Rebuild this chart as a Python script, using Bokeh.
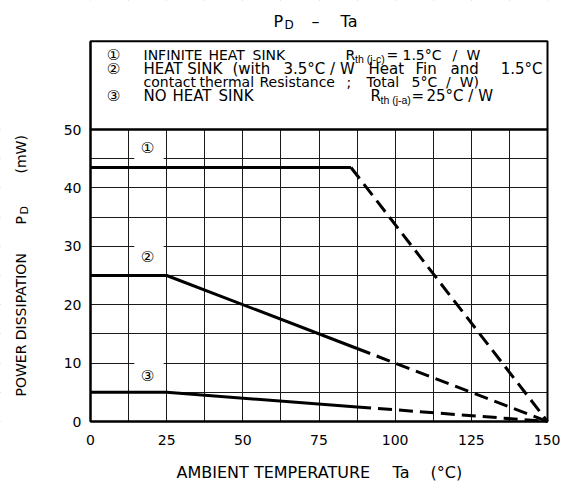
import math
from bokeh.plotting import figure
from bokeh.models import Range1d, FixedTicker, Label
from bokeh.embed import file_html
from bokeh.resources import INLINE

# ---- data ----
temp_ticks = [0, 25, 50, 75, 100, 125, 150]        # Ta (°C)
pd_ticks = [0, 10, 20, 30, 40, 50]                 # PD (mW)
grid_t = [0, 12.5, 25, 37.5, 50, 62.5, 75, 87.5, 100, 112.5, 125, 137.5, 150]
grid_p = [0, 5, 10, 15, 20, 25, 30, 35, 40, 45, 50]

# curve 1: infinite heat sink
c1_solid_t = [0, 85.5]
c1_solid_p = [43.5, 43.5]
c1_dash_t = [85.5, 150]
c1_dash_p = [43.5, 0]
# curve 2: heat sink 5 °C/W total
c2_solid_t = [0, 25, 87.5]
c2_solid_p = [25, 25, 12.5]
c2_dash_t = [87.5, 150]
c2_dash_p = [12.5, 0]
# curve 3: no heat sink
c3_solid_t = [0, 25, 87.5]
c3_solid_p = [5, 5, 2.5]
c3_dash_t = [87.5, 150]
c3_dash_p = [2.5, 0]

curve_marks = ["①", "②", "③"]
curve_mark_t = [18.7, 18.7, 18.7]
curve_mark_p = [46.9, 28.1, 7.8]

FONT = "DejaVu Sans"
SUBFONT = "Liberation Sans"
T_MIN, T_MAX = 0, 150
P_MIN, P_MAX = 0, 50
BOX_TOP = 65.1                       # top of the legend box (mW scale)

# page geometry (px); the frame covers the whole canvas, axes sit at fixed locations
W, H = 560, 486
PX_L, PX_R, PX_B = 90, 547, 421      # x=0, x=150, y=0 on the page
PX_50 = 129                          # y=50 on the page
SXP = (PX_R - PX_L) / (T_MAX - T_MIN)
SYP = (PX_B - PX_50) / (P_MAX - P_MIN)
x_start = -PX_L / SXP
x_end = (W - PX_L) / SXP
y_start = -(H - PX_B) / SYP
y_end = PX_B / SYP

p = figure(width=W, height=H, x_range=Range1d(x_start, x_end), y_range=Range1d(y_start, y_end),
           output_backend="svg", toolbar_location=None,
           min_border_left=0, min_border_right=0, min_border_top=0, min_border_bottom=0)
p.background_fill_color = "white"
p.border_fill_color = "white"
p.outline_line_color = None

p.xaxis.ticker = FixedTicker(ticks=temp_ticks)
p.yaxis.ticker = FixedTicker(ticks=pd_ticks)
p.xaxis.bounds = (T_MIN, T_MAX)
p.yaxis.bounds = (P_MIN, BOX_TOP)
p.xaxis.fixed_location = P_MIN
p.yaxis.fixed_location = T_MIN
p.xgrid.ticker = FixedTicker(ticks=grid_t)
p.ygrid.ticker = FixedTicker(ticks=grid_p)
for g in (p.xgrid, p.ygrid):
    g.grid_line_color = "#1a1a1a"
    g.grid_line_width = 1
    g.grid_line_alpha = 1.0
for ax in (p.xaxis, p.yaxis):
    ax.axis_line_color = "black"
    ax.axis_line_width = 2
    ax.major_tick_line_color = None
    ax.minor_tick_line_color = None
    ax.major_label_text_font = FONT
    ax.major_label_text_font_size = "14px"
    ax.major_label_text_color = "black"
p.xaxis.major_label_standoff = 7
p.yaxis.major_label_standoff = 3

# white masks hiding grid lines outside the chart box (extended past the frame edges)
ex = 10
p.quad(left=[x_start - ex, T_MAX, x_start - ex, x_start - ex],
       right=[T_MIN, x_end + ex, x_end + ex, x_end + ex],
       bottom=[y_start - ex, y_start - ex, BOX_TOP, y_start - ex],
       top=[y_end + ex, y_end + ex, y_end + ex, P_MIN],
       fill_color="white", line_color=None)
# legend box
p.quad(left=[T_MIN], right=[T_MAX], bottom=[P_MAX], top=[BOX_TOP], fill_color="white",
       line_color="black", line_width=2)
# chart box border
p.quad(left=[T_MIN], right=[T_MAX], bottom=[P_MIN], top=[P_MAX], fill_color=None,
       line_color="black", line_width=2)
# white gaps in grid behind curve marks
p.quad(left=[14.4] * 3, right=[24] * 3,
       bottom=[m - 2.3 for m in curve_mark_p], top=[m + 2.5 for m in curve_mark_p],
       fill_color="white", line_color=None)

for st, sp, dt, dp in ((c1_solid_t, c1_solid_p, c1_dash_t, c1_dash_p),
                       (c2_solid_t, c2_solid_p, c2_dash_t, c2_dash_p),
                       (c3_solid_t, c3_solid_p, c3_dash_t, c3_dash_p)):
    p.line(st, sp, line_color="black", line_width=3)
    p.line(dt, dp, line_color="black", line_width=3, line_dash="14 7")

for m, t, v in zip(curve_marks, curve_mark_t, curve_mark_p):
    p.add_layout(Label(x=t, y=v, text=m, text_align="center", text_baseline="middle",
                       text_font=FONT, text_font_size="15px", text_color="black"))


# ---- text placed by page pixel position ----
def lab(xp, yp, text, size="14px", align="left", angle=0.0, font=FONT):
    p.add_layout(Label(x=(xp - PX_L) / SXP, y=(PX_B - yp) / SYP,
                       text=text, text_align=align, text_baseline="middle", angle=angle,
                       text_font=font, text_font_size=size, text_color="black"))


# title
lab(273, 20.5, "P", "16px")
lab(284, 24.5, "D", "12px")
lab(311, 20.5, "–", "16px")
lab(340, 20.5, "Ta", "16px")

# legend rows
R1, R2, R3, R4 = 54, 68, 81.5, 95
lab(113, R1, "①", "15px", "center")
lab(113, R2, "②", "15px", "center")
lab(113, R4, "③", "15px", "center")

lab(143, R1, "INFINITE")
lab(208, R1, "HEAT")
lab(252, R1, "SINK")
lab(345, R1, "R")
lab(354.5, R1 + 4.5, "th (j-c)", "10.5px", font=SUBFONT)
lab(386, R1, "=")
lab(402, R1, "1.5°C")
lab(452, R1, "/")
lab(466, R1, "W")

lab(143, R2, "HEAT SINK", "15px")
lab(232, R2, "(with", "15px")
lab(283, R2, "3.5°C / W", "15px")
lab(368, R2, "Heat", "15px")
lab(415, R2, "Fin", "15px")
lab(450, R2, "and", "15px")
lab(542, R2, "1.5°C", "15px", "right")

lab(143, R3, "contact")
lab(199, R3, "thermal")
lab(259, R3, "Resistance")
lab(346, R3, ";")
lab(366, R3, "Total")
lab(411, R3, "5°C\u00a0\u00a0/\u00a0\u00a0W)")

lab(143, R4, "NO", "15px")
lab(172, R4, "HEAT", "15px")
lab(218, R4, "SINK", "15px")
lab(370, R4, "R", "15px")
lab(380, R4 + 4.5, "th (j-a)", "10.5px", font=SUBFONT)
lab(411, R4, "=", "15px")
lab(426, R4, "25°C / W", "15px")

# x axis label
lab(176, 472, "AMBIENT TEMPERATURE", "16px")
lab(392, 472, "Ta", "16px")
lab(430, 472, "(°C)", "16px")

# y axis label (rotated)
up = math.pi / 2
lab(20, 396, "POWER DISSIPATION", "14px", "left", up)
lab(20, 224, "P", "14px", "left", up)
lab(24, 214, "D", "11px", "left", up)
lab(20, 173, "(mW)", "14px", "left", up)

open("out.html", "w").write(file_html(p, INLINE))
